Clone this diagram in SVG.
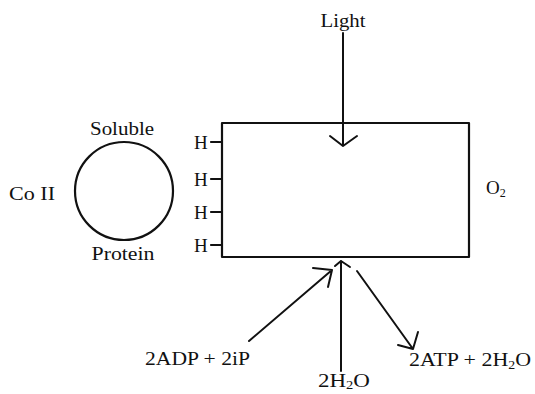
<svg xmlns="http://www.w3.org/2000/svg" width="535" height="394" viewBox="0 0 535 394">
<style>
text{font-family:"Liberation Serif","DejaVu Serif",serif;font-size:19px;fill:#111}
.s{fill:none;stroke:#111;stroke-width:2.2;stroke-linecap:round;stroke-linejoin:round}
.a{fill:none;stroke:#111;stroke-width:2;stroke-linecap:round;stroke-linejoin:round}
.sub{font-size:12px}
</style>
<rect width="535" height="394" fill="#fff"/>
<g id="protein">
<circle class="s" cx="124" cy="191" r="49"/>
<text x="122" y="135" text-anchor="middle" textLength="64" lengthAdjust="spacingAndGlyphs">Soluble</text>
<text x="123" y="260" text-anchor="middle" textLength="63" lengthAdjust="spacingAndGlyphs">Protein</text>
</g>
<g id="co2">
<text x="9" y="200" textLength="46" lengthAdjust="spacingAndGlyphs">Co II</text>
</g>
<g id="chloroplast">
<rect class="s" x="222" y="123" width="247" height="134"/>
<path class="s" d="M211 142H222M211 179H222M211 212H222M211 245H222"/>
<text x="194" y="149">H</text>
<text x="194" y="186">H</text>
<text x="194" y="219">H</text>
<text x="194" y="252">H</text>
</g>
<g id="o2"><text x="486" y="194">O<tspan class="sub" dy="3">2</tspan></text></g>
<g id="light"><text x="343" y="27" text-anchor="middle" textLength="45" lengthAdjust="spacingAndGlyphs">Light</text></g>
<g id="adp"><text x="145" y="365" textLength="105" lengthAdjust="spacingAndGlyphs">2ADP + 2iP</text></g>
<g id="water"><text x="318" y="387" textLength="52" lengthAdjust="spacingAndGlyphs">2H<tspan class="sub" dy="2">2</tspan><tspan dy="-2">O</tspan></text></g>
<g id="atp"><text x="409" y="366" textLength="122" lengthAdjust="spacingAndGlyphs">2ATP + 2H<tspan class="sub" dy="3">2</tspan><tspan dy="-3">O</tspan></text></g>
<g id="connectors">
<path class="a" d="M343 33V146M330 136L343 146L357 136"/>
<path class="a" d="M341 371V261M335 266L341 261L350 267"/>
<path class="a" d="M249 341L332 270M313 268L332 270L328 287"/>
<path class="a" d="M357 271L413 349M398 345L413 349L418 332"/>
</g>
</svg>
